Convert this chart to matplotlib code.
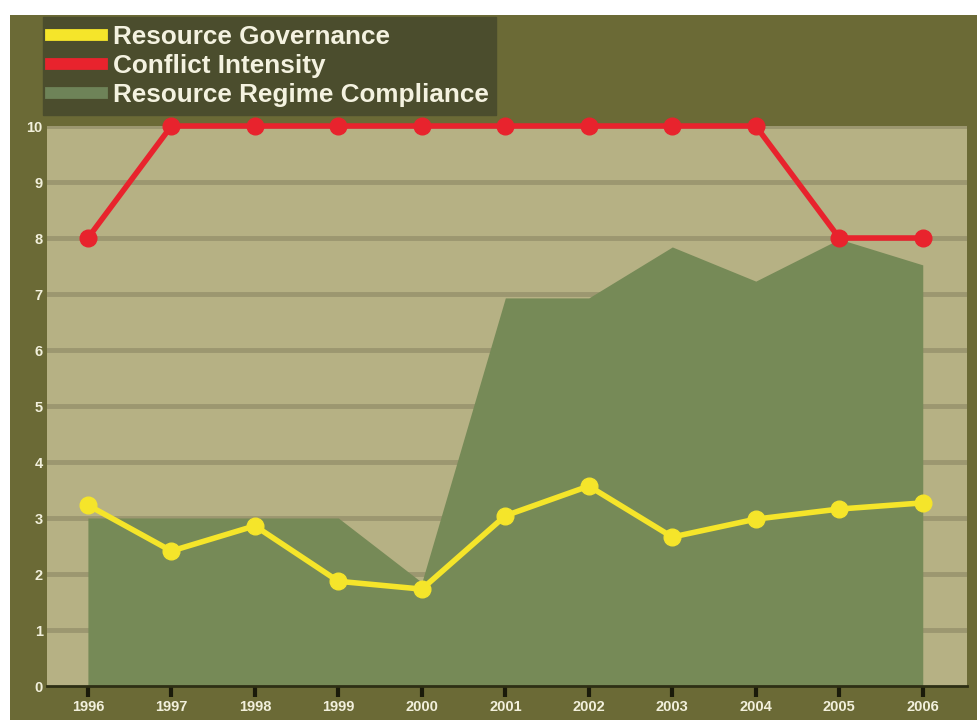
import matplotlib
matplotlib.use("Agg")
import matplotlib.pyplot as plt
from matplotlib.lines import Line2D
from matplotlib.patches import Rectangle

years = [1996, 1997, 1998, 1999, 2000, 2001, 2002, 2003, 2004, 2005, 2006]
governance = [3.23, 2.41, 2.86, 1.87, 1.73, 3.04, 3.57, 2.66, 2.98, 3.16, 3.27]
conflict = [8, 10, 10, 10, 10, 10, 10, 10, 10, 8, 8]
compliance = [3.0, 3.0, 3.0, 3.0, 1.85, 6.93, 6.93, 7.84, 7.23, 7.98, 7.52]
yticks = list(range(0, 11))

OLIVE = "#6b6a36"
PLOTBG = "#b6b184"
GRID = "#9c9770"
GREEN = "#768a57"
YELLOW = "#f5e52a"
RED = "#e8232d"

plt.rcParams['font.family'] = ['Liberation Sans', 'DejaVu Sans']

fig = plt.figure(figsize=(9.78, 7.2), dpi=100)
fig.patch.set_facecolor("white")
fig.patches.append(Rectangle((10/978, 0), 1 - 10/978, 1 - 15/720, transform=fig.transFigure,
                             facecolor=OLIVE, edgecolor="none", zorder=-10))

ax = fig.add_axes([47/978, 34/720, 920/978, 560/720])
ax.set_facecolor(PLOTBG)
ax.set_xlim(1995.51, 2006.53)
ax.set_ylim(0, 10)

for y in yticks[1:]:
    ax.axhline(y, color=GRID, lw=3.5, zorder=1)

ax.fill_between(years, compliance, 0, color=GREEN, zorder=2, lw=0)
ax.plot(years, conflict, color=RED, lw=4, marker='o', ms=12, zorder=4, clip_on=False)
ax.plot(years, governance, color=YELLOW, lw=4, marker='o', ms=12, zorder=5, clip_on=False)

ax.set_xticks(years)
ax.set_xticklabels([str(y) for y in years])
ax.set_yticks(yticks)
for s in ['top', 'right', 'left']:
    ax.spines[s].set_visible(False)
ax.spines['bottom'].set_color("#2e2f14")
ax.spines['bottom'].set_linewidth(2)
ax.tick_params(axis='x', colors="#1a1a0a", length=8, width=3, direction='out',
               labelcolor="#f2f0dc", labelsize=10.5, pad=2)
ax.tick_params(axis='y', length=0, labelcolor="#f2f0dc", labelsize=10.5, pad=3)
for lbl in ax.get_xticklabels() + ax.get_yticklabels():
    lbl.set_fontweight('bold')

handles = [Line2D([0], [0], color=YELLOW, lw=8.5),
           Line2D([0], [0], color=RED, lw=8.5),
           Line2D([0], [0], color="#6e8358", lw=8.5)]
labels = ["Resource Governance", "Conflict Intensity", "Resource Regime Compliance"]
leg = fig.legend(handles, labels, loc='upper left', bbox_to_anchor=(43/978, 1 - 17/720),
                 borderaxespad=0,
                 frameon=True, fancybox=False, facecolor="#4b4d2d", edgecolor="#4b4d2d",
                 framealpha=1, handlelength=1.95, handletextpad=0.42, labelspacing=0.2,
                 borderpad=0.3, prop={'size': 18.8, 'weight': 'bold'})
for t in leg.get_texts():
    t.set_color("#f4f2e0")

fig.savefig("out.png", dpi=100, facecolor=fig.get_facecolor())
